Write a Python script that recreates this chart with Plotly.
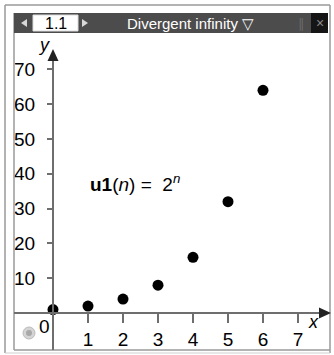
import plotly.graph_objects as go

# Sequence u1(n) = 2^n for n = 0..6
n_values = [0, 1, 2, 3, 4, 5, 6]
u1_values = [1, 2, 4, 8, 16, 32, 64]
x_ticks = [1, 2, 3, 4, 5, 6, 7]
y_ticks = [10, 20, 30, 40, 50, 60, 70]

W, H = 334, 355
# screen geometry of the graph window (pixels)
ORIGIN_PX = (53, 313)
PX_PER_X = 35.0
PX_PER_Y = 3.48

x_range = [-ORIGIN_PX[0] / PX_PER_X, (W - ORIGIN_PX[0]) / PX_PER_X]
y_range = [-(H - ORIGIN_PX[1]) / PX_PER_Y, ORIGIN_PX[1] / PX_PER_Y]


def px(x):
    return x / W


def py(y):
    return 1 - y / H


FONT = "Liberation Sans Narrow, Liberation Sans, Arial, sans-serif"
FRAME = "#9a9a9a"
AXIS = "#6e6e6e"

fig = go.Figure()
fig.add_trace(go.Scatter(
    x=n_values, y=u1_values, mode="markers",
    marker=dict(size=11, color="black"),
    hoverinfo="skip", showlegend=False,
))


def line(x0, y0, x1, y1, color=FRAME, width=1.5):
    return dict(type="line", xref="paper", yref="paper", x0=px(x0), y0=py(y0), x1=px(x1), y1=py(y1),
                line=dict(color=color, width=width))


def label(text, x, y, size, color="black", xanchor="center"):
    return dict(text=text, x=px(x), y=py(y), xref="paper", yref="paper", showarrow=False,
                xanchor=xanchor, yanchor="middle",
                font=dict(family=FONT, size=size, color=color))


shapes = [
    # outer window frame
    line(5, 5, 330, 5),
    line(5, 5, 5, 353),
    line(330, 5, 330, 353),
    line(5, 353, 330, 353, color="#cfcfcf", width=1),
    # inner page frame
    line(14, 13, 14, 350),
    line(14, 350, 330, 350),
    # title bar
    dict(type="rect", xref="paper", yref="paper", x0=px(14), y0=py(13), x1=px(328), y1=py(33),
         fillcolor="#4c4c4c", line=dict(width=0), layer="above"),
    dict(type="rect", xref="paper", yref="paper", x0=px(311), y0=py(13), x1=px(328), y1=py(33),
         fillcolor="#151515", line=dict(width=0), layer="above"),
    dict(type="rect", xref="paper", yref="paper", x0=px(33), y0=py(15), x1=px(78), y1=py(31),
         fillcolor="white", line=dict(color="#dddddd", width=1), layer="above"),
    # page tab arrows
    dict(type="path", xref="paper", yref="paper",
         path=f"M {px(21)} {py(23)} L {px(27)} {py(19)} L {px(27)} {py(27)} Z",
         fillcolor="#d8d8d8", line=dict(width=0), layer="above"),
    dict(type="path", xref="paper", yref="paper",
         path=f"M {px(88)} {py(23)} L {px(82)} {py(19)} L {px(82)} {py(27)} Z",
         fillcolor="#d8d8d8", line=dict(width=0), layer="above"),
    # axes: x axis spans the page, y axis runs from the bottom edge up
    dict(type="line", xref="paper", yref="y", x0=px(14), x1=px(322), y0=0, y1=0,
         line=dict(color=AXIS, width=2)),
    dict(type="line", xref="x", yref="paper", x0=0, x1=0, y0=py(350), y1=py(58),
         line=dict(color=AXIS, width=2)),
    # arrow heads
    dict(type="path", xref="paper", yref="paper",
         path=f"M {px(331)} {py(313)} L {px(319)} {py(307.5)} L {px(319)} {py(318.5)} Z",
         fillcolor="#222222", line=dict(width=0)),
    dict(type="path", xref="paper", yref="paper",
         path=f"M {px(53)} {py(49)} L {px(47.5)} {py(61)} L {px(58.5)} {py(61)} Z",
         fillcolor="#222222", line=dict(width=0)),
    # small tool icon in the lower-left corner
    dict(type="circle", xref="paper", yref="paper",
         x0=px(23), x1=px(35), y0=py(327), y1=py(339),
         fillcolor="#d4d4d4", line=dict(color="#bbbbbb", width=1)),
    dict(type="circle", xref="paper", yref="paper",
         x0=px(26), x1=px(32), y0=py(330), y1=py(336),
         fillcolor="#a8a8a8", line=dict(width=0)),
]

annotations = [
    label("1.1", 55.5, 23, 16),
    label("Divergent infinity \u25bd", 190, 23, 15, color="white"),
    label("\u2225", 301, 23, 13, color="#6a6a6a"),
    label("\u00d7", 319.5, 23, 14, color="#8a8a8a"),
    label("0", 44, 326, 19),
    label("<i>x</i>", 313, 322, 18),
    label("<i>y</i>", 44, 45, 18),
    label("<b>u1</b>(<i>n</i>) = \u00a02<sup><i>n</i></sup>", 88, 183, 19, xanchor="left"),
]

fig.update_layout(
    width=W, height=H,
    margin=dict(l=0, r=0, t=0, b=0),
    paper_bgcolor="white", plot_bgcolor="white",
    shapes=shapes, annotations=annotations,
    xaxis=dict(range=x_range, domain=[0, 1], anchor="free", position=py(ORIGIN_PX[1]),
               tickvals=x_ticks, ticktext=[str(v) for v in x_ticks],
               ticks="outside", ticklen=9, tickwidth=1.5, tickcolor=AXIS,
               showgrid=False, zeroline=False, showline=False,
               tickfont=dict(family=FONT, size=19, color="black"), fixedrange=True),
    yaxis=dict(range=y_range, domain=[0, 1], anchor="free", position=px(ORIGIN_PX[0]),
               tickvals=y_ticks, ticktext=[str(v) for v in y_ticks],
               ticks="outside", ticklen=6, tickwidth=1.5, tickcolor=AXIS,
               ticklabelstandoff=8,
               showgrid=False, zeroline=False, showline=False,
               tickfont=dict(family=FONT, size=19, color="black"), fixedrange=True),
)

fig.write_html("out.html", config={"displayModeBar": False})
